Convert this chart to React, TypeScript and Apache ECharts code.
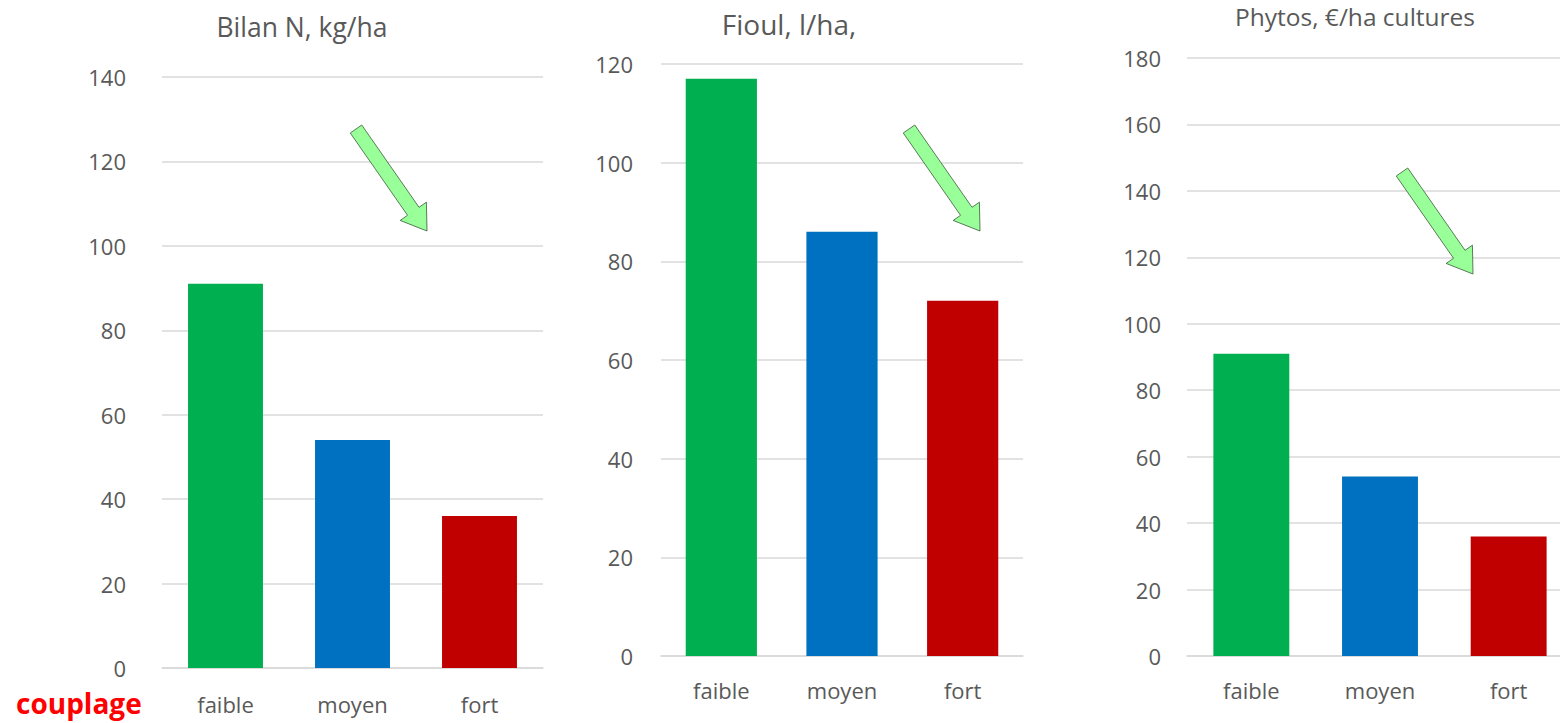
import React, { useEffect, useRef } from "react";
import * as echarts from "echarts";

const categories = ["faible", "moyen", "fort"];
const barColors = ["#00B050", "#0070C0", "#C00000"];
const bilanN = [91, 54, 36];
const fioul = [117, 86, 72];
const phytos = [91, 54, 36];
const titles = ["Bilan N, kg/ha", "Fioul, l/ha,", "Phytos, €/ha cultures"];
const yMax = [140, 120, 180];
const rowLabel = "couplage";

const FONT = "'Open Sans', 'Noto Sans', sans-serif";
const TXT = "#595959";

function arrow(tx: number, ty: number, px: number, py: number) {
  const dx = px - tx;
  const dy = py - ty;
  const len = Math.sqrt(dx * dx + dy * dy);
  const ux = dx / len;
  const uy = dy / len;
  const nx = -uy;
  const ny = ux;
  const w = 7;
  const hw = 16;
  const hl = 24;
  const bx = px - ux * hl;
  const by = py - uy * hl;
  const pts = [
    [tx + nx * w, ty + ny * w],
    [bx + nx * w, by + ny * w],
    [bx + nx * hw, by + ny * hw],
    [px, py],
    [bx - nx * hw, by - ny * hw],
    [bx - nx * w, by - ny * w],
    [tx - nx * w, ty - ny * w],
  ];
  return {
    type: "polygon",
    shape: { points: pts },
    style: { fill: "#99FF99", stroke: "#3a5a3a", lineWidth: 0.8 },
    z: 10,
  };
}

export default function App() {
  const ref = useRef<HTMLDivElement>(null);
  useEffect(() => {
    if (!ref.current) return;
    const chart = echarts.init(ref.current, null, { renderer: "svg" });
    const grids = [
      { left: 162, width: 381, top: 77, bottom: 55 },
      { left: 661, width: 362, top: 64, bottom: 67 },
      { left: 1187, width: 386, top: 58, bottom: 67 },
    ];
    const yLabelMargin = [36, 28, 26];
    const xLabelMargin = [25, 23, 23];
    const seriesData = [bilanN, fioul, phytos];
    const option: any = {
      animation: false,
      backgroundColor: "#ffffff",
      grid: grids.map((g) => ({ ...g, containLabel: false })),
      xAxis: grids.map((_, i) => ({
        type: "category",
        gridIndex: i,
        data: categories,
        axisLine: { show: true, lineStyle: { color: "#D9D9D9", width: 1.5 } },
        axisTick: { show: false },
        axisLabel: {
          color: TXT,
          fontFamily: FONT,
          fontSize: 22,
          margin: xLabelMargin[i],
        },
      })),
      yAxis: grids.map((_, i) => ({
        type: "value",
        gridIndex: i,
        min: 0,
        max: yMax[i],
        interval: 20,
        axisLine: { show: false },
        axisTick: { show: false },
        splitLine: { lineStyle: { color: "#D9D9D9", width: 1.5 } },
        axisLabel: {
          color: TXT,
          fontFamily: FONT,
          fontSize: 22,
          margin: yLabelMargin[i],
        },
      })),
      series: seriesData.map((d, i) => ({
        type: "bar",
        xAxisIndex: i,
        yAxisIndex: i,
        barCategoryGap: "41%",
        data: d.map((v, j) => ({ value: v, itemStyle: { color: barColors[j] } })),
      })),
      graphic: [
        {
          type: "text",
          x: 302,
          y: 27,
          style: { text: titles[0], fill: TXT, font: `26.5px ${FONT}`, align: "center", verticalAlign: "middle" },
        },
        {
          type: "text",
          x: 789,
          y: 24,
          style: { text: titles[1], fill: TXT, font: `28px ${FONT}`, align: "center", verticalAlign: "middle" },
        },
        {
          type: "text",
          x: 1355,
          y: 16,
          style: { text: titles[2], fill: TXT, font: `24.5px ${FONT}`, align: "center", verticalAlign: "middle" },
        },
        {
          type: "text",
          x: 16,
          y: 703,
          style: { text: rowLabel, fill: "#FF0000", font: `bold 28px ${FONT}`, align: "left", verticalAlign: "middle" },
        },
        arrow(356, 129, 427, 231),
        arrow(909, 129, 980, 231),
        arrow(1402, 172, 1473, 274),
      ],
    };
    chart.setOption(option);
    return () => chart.dispose();
  }, []);
  return (
    <div
      ref={ref}
      style={{ position: "fixed", left: 0, top: 0, width: "1580px", height: "723px", background: "#fff" }}
    />
  );
}
